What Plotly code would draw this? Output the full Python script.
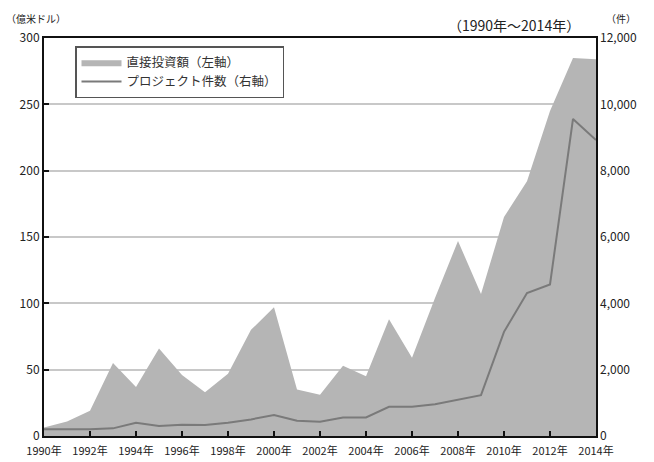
import plotly.graph_objects as go

years = list(range(1990, 2015))
investment = [6.5, 11, 19, 55, 37, 66, 46, 33, 47, 80, 97, 35, 31, 53, 45, 88, 59, 104, 147, 107,
              165, 192, 245, 285, 284]
projects = [200, 200, 200, 230, 400, 300, 340, 330, 400, 500, 630, 460, 430, 560, 560, 880, 880, 960,
            1100, 1230, 3140, 4310, 4570, 9560, 8925]

xtick_vals = list(range(1990, 2015, 2))
xtick_text = [f"{y}年" for y in xtick_vals]
y2_vals = [0, 2000, 4000, 6000, 8000, 10000, 12000]
y2_text = ["0", "2,000", "4,000", "6,000", "8,000", "10,000", "12,000"]

FONT = "Noto Sans CJK JP"
W, H = 654, 462
L, R, T, B = 44, 58, 38, 26
pw, ph = W - L - R, H - T - B


def px(x, y):
    return (x - L) / pw, (H - B - y) / ph


fig = go.Figure()
fig.add_trace(go.Scatter(
    x=years, y=investment, name="直接投資額（左軸）", mode="lines",
    line=dict(width=0, color="#b5b5b5"), fill="tozeroy", fillcolor="#b5b5b5",
))
fig.add_trace(go.Scatter(
    x=years, y=projects, name="プロジェクト件数（右軸）", mode="lines",
    line=dict(width=2, color="#7a7a7a"), yaxis="y2",
))

lx, ly = px(75, 46)
annots = []
for text, x, y, size, anchor in [
    ("（億米ドル）", 4, 19, 10, "left"),
    ("（件）", 604, 18, 10, "left"),
    ("（1990年～2014年）", 582, 25, 14, "right"),
]:
    ax, ay = px(x, y)
    annots.append(dict(text=text, x=ax, y=ay, xref="paper", yref="paper", showarrow=False,
                       font=dict(size=size, color="#222"), xanchor=anchor, yanchor="middle"))

fig.update_layout(
    width=W, height=H,
    margin=dict(l=L, r=R, t=T, b=B, autoexpand=False),
    paper_bgcolor="white", plot_bgcolor="white",
    font=dict(family=FONT, size=11, color="#222"),
    showlegend=True,
    legend=dict(x=lx, y=ly, xanchor="left", yanchor="top",
                bgcolor="white", bordercolor="#555", borderwidth=1.5,
                font=dict(size=12.5, color="#333"), itemwidth=40,
                tracegroupgap=0),
    xaxis=dict(range=[1990, 2014], tickvals=xtick_vals, ticktext=xtick_text,
               ticks="inside", ticklen=5, tickwidth=2, tickcolor="#111",
               showline=True, linewidth=2, linecolor="#111", mirror=True,
               showgrid=False, zeroline=False, ticklabelstandoff=4, automargin=False,
               tickfont=dict(size=11, color="#222")),
    yaxis=dict(range=[0, 300], dtick=50, ticks="inside", ticklen=5, tickwidth=2,
               tickcolor="#111", showline=True, linewidth=2, linecolor="#111",
               mirror=True, showgrid=True, gridcolor="#c8c8c8", gridwidth=1.5,
               zeroline=False, automargin=False, tickfont=dict(size=12, color="#222")),
    yaxis2=dict(range=[0, 12000], tickvals=y2_vals, ticktext=y2_text,
                overlaying="y", side="right", showgrid=False, zeroline=False,
                ticks="", showline=False, ticklabelstandoff=3, automargin=False,
                tickfont=dict(size=12, color="#222")),
    annotations=annots,
)

fig.write_html("out.html", config={"displayModeBar": False},
               post_script="document.body.style.margin='0';document.body.style.padding='0';")
